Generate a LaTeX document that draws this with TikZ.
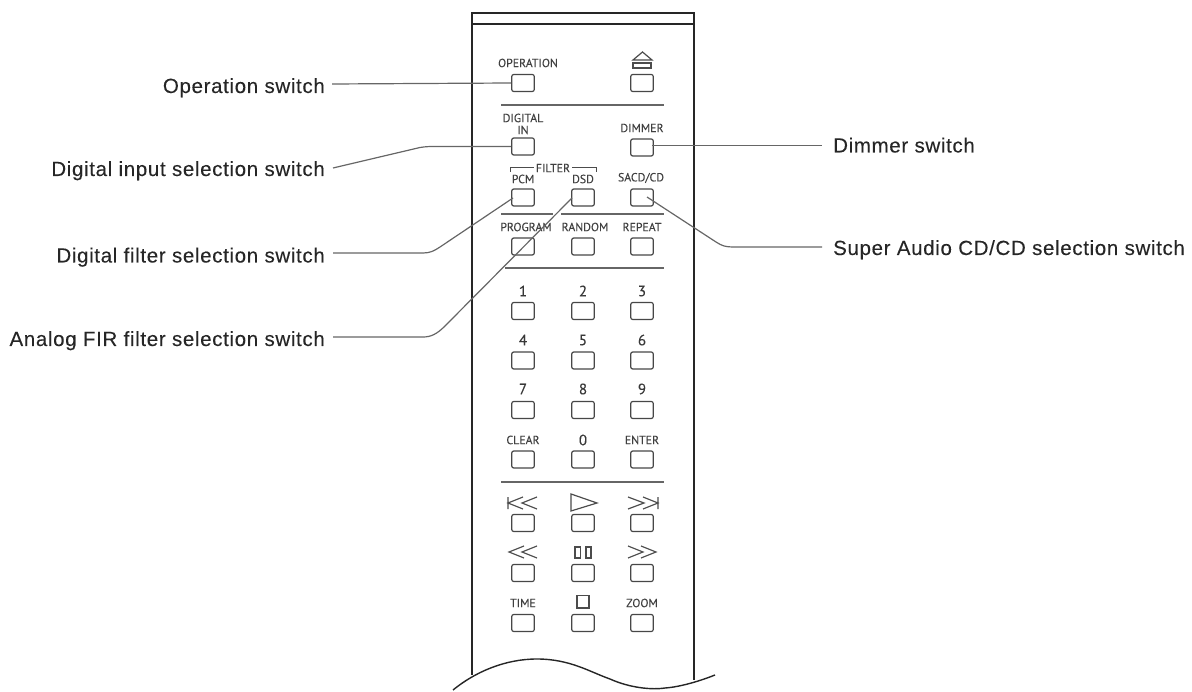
\documentclass[tikz,border=0pt]{standalone}
\usepackage{fontspec}
\setmainfont{Liberation Sans}
\newfontfamily\lblfont[LetterSpace=3.2,FakeBold=0.15]{Liberation Sans}
\newfontfamily\btnfont[FakeBold=0.1]{PT Sans}
\newfontfamily\numfont[FakeBold=0.1]{PT Sans}
\tikzset{
  lbl/.style={anchor=base east,inner sep=0pt,font=\lblfont\fontsize{20.5}{22}\selectfont,text=black!85},
  rlbl/.style={anchor=base west,inner sep=0pt,font=\lblfont\fontsize{20.5}{22}\selectfont,text=black!85},
  btn/.style={draw=black!72,line width=1.2pt,rounded corners=2pt,minimum width=22.5pt,minimum height=17pt,inner sep=0pt,fill=white},
  captxt/.style={inner sep=0pt,font=\btnfont\fontsize{11.8}{12}\selectfont,text=black!75},
  numtxt/.style={inner sep=0pt,font=\numfont\fontsize{15}{16}\selectfont,text=black!78},
  wall/.style={draw=black!85,line width=1.7pt},
  sepline/.style={draw=black!60,line width=1.2pt},
  lead/.style={draw=black!60,line width=1.2pt,line join=round},
  sym/.style={draw=black!70,line width=1.2pt,line join=miter},
}
\begin{document}
\begin{tikzpicture}[x=1pt,y=-1pt]
\useasboundingbox (0,0) rectangle (1192,692);
% housing
\draw[wall] (472,675) -- (472,13) -- (694,13) -- (694,680);
\draw[wall,line width=1.3pt] (472,24) -- (694,24);
\draw[wall,line width=1.4pt] (453,690) .. controls (475,672) and (505,659) .. (537,659) .. controls (570,659) and (590,672) .. (610,679) .. controls (630,688) and (652,690) .. (665,688) .. controls (680,687) and (700,681) .. (715,675);
% separators
\draw[sepline] (501,105) -- (664,105);
\draw[sepline] (501,214) -- (553,214) (561,214) -- (664,214);
\draw[sepline] (505,268) -- (664,268);
\draw[sepline] (501,482) -- (664,482);
% buttons
\foreach \n/\x/\y in {op/523/83,ej/642/83,dig/523/146.5,dim/642/147.5,pcm/523/197.5,dsd/583/197.5,sacd/642/197.5,
  prog/523/246.5,rand/583/246.5,rep/642/246.5,
  a1/523/311,a2/583/311,a3/642/311,a4/523/360.5,a5/583/360.5,a6/642/360.5,
  a7/523/410,a8/583/410,a9/642/410,clr/523/459.5,a0/583/459.5,ent/642/459.5,
  prv/523/523,ply/583/523,nxt/642/523,rew/523/573,pau/583/573,ffw/642/573,
  tim/523/623,stp/583/623,zom/642/623}
  \node[btn] (\n) at (\x,\y) {};
% captions
\node[captxt] (tOp) at (528,63) {OPERATION};
\node[captxt] (tDig) at (523,118) {DIGITAL};
\node[captxt] (tIn) at (523,130) {IN};
\node[captxt] (tDim) at (642,128) {DIMMER};
\node[captxt] (tFil) at (553,168) {FILTER};
\node[captxt] (tPcm) at (523,179) {PCM};
\node[captxt] (tDsd) at (583,179) {DSD};
\node[captxt] (tSac) at (641,178) {SACD/CD};
\node[captxt] (tPrg) at (526,227) {PROGRAM};
\node[captxt] (tRnd) at (585,227) {RANDOM};
\node[captxt] (tRep) at (642,227) {REPEAT};
\foreach \n/\x/\y/\t in {b1/523/291/1,b2/583/291/2,b3/642/291/3,b4/523/340/4,b5/583/340/5,b6/642/340/6,
  b7/523/389/7,b8/583/389/8,b9/642/389/9,b0/583/440/0}
  \node[numtxt] (\n) at (\x,\y) {\t};
\node[captxt] (tClr) at (523,440) {CLEAR};
\node[captxt] (tEnt) at (642,440) {ENTER};
\node[captxt] (tTim) at (523,603) {TIME};
\node[captxt] (tZom) at (642,603) {ZOOM};
% filter bracket
\draw[draw=black!70,line width=0.9pt] (510,172) -- (510,167) -- (534,167);
\draw[draw=black!70,line width=0.9pt] (572,167) -- (596,167) -- (596,172);
% symbols
\draw[sym] (633,60) -- (642.5,52) -- (652,60) -- cycle;
\draw[sym] (633,63) rectangle (651,68);
\draw[sym] (508,497) -- (508,509) (523,497) -- (508,503) -- (523,509) (537,497) -- (522,503) -- (537,509);
\draw[sym] (571,494) -- (597,503) -- (571,511) -- cycle;
\draw[sym] (628,497) -- (644,503) -- (628,509) (643,497) -- (658,503) -- (643,509) (658,497) -- (658,509);
\draw[sym] (537,546) -- (522,552) -- (537,558) (524,546) -- (509,552) -- (524,558);
\draw[sym] (628,546) -- (643,552) -- (628,558) (641,546) -- (656,552) -- (641,558);
\draw[sym] (575,547) rectangle (580.5,558) (586,547) rectangle (591,558);
\draw[sym] (577,595.5) rectangle (589,608);
% labels
\node[lbl] (lOp) at (325,93) {Operation switch};
\node[lbl] (lDig) at (325,176) {Digital input selection switch};
\node[lbl] (lPcm) at (325,262.5) {Digital filter selection switch};
\node[lbl] (lDsd) at (325,346) {Analog FIR filter selection switch};
\node[rlbl] (lDim) at (833,152.5) {Dimmer switch};
\node[rlbl] (lSac) at (833,255) {Super Audio CD/CD selection switch};
% leaders
\coordinate (cOp) at (332,84);
\coordinate (cDig) at (333,168);
\coordinate (cPcm) at (333,253);
\coordinate (cDsd) at (333,337);
\coordinate (cDim) at (822,145.5);
\coordinate (cSac) at (822,247);
\draw[lead] (cOp) -- (op.west);
\draw[lead] (cDig) -- (420,147.5) .. controls (426,146.5) and (430,146.5) .. (436,146.5) -- (dig.west);
\draw[lead] (cPcm) -- (423,253) .. controls (430,253) and (434,251) .. (440,247) -- (513,198);
\draw[lead] (cDsd) -- (423,337) .. controls (431,337) and (437,334) .. (445,326) -- (572,198);
\draw[lead] (dim.center) ++(10,-2) -- (cDim);
\draw[lead] (647,197) -- (716,242) .. controls (722,246) and (726,247) .. (733,247) -- (cSac);
\end{tikzpicture}
\end{document}
